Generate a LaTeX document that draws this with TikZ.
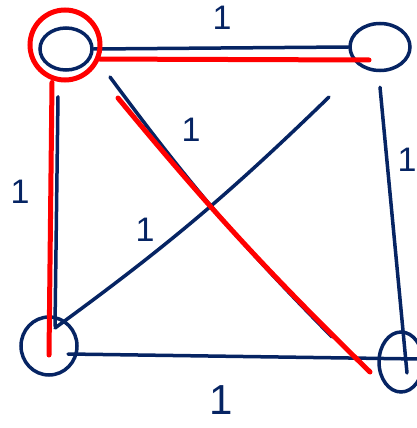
\documentclass[tikz,border=0pt]{standalone}
\usepackage{fontspec}
\setsansfont{Liberation Sans}
\usetikzlibrary{shapes.geometric}
\definecolor{navy}{RGB}{6,36,99}
\definecolor{hlred}{RGB}{255,0,0}
\begin{document}
\begin{tikzpicture}[x=1pt, y=-1pt,
      vtx/.style={ellipse, draw=navy, line width=3.5pt, inner sep=0pt},
      edge/.style={draw=navy, line width=3.5pt, line cap=round},
      hl/.style={draw=hlred, line width=5pt, line cap=round},
      wt/.style={text=navy, inner sep=0pt, font=\sffamily\fontsize{34}{34}\selectfont},
    ]
      \useasboundingbox (0,0) rectangle (417,428);

      % vertices
      \node[vtx, minimum width=52pt, minimum height=42pt] (tl) at (66,49) {};
      \node[vtx, minimum width=60pt, minimum height=47pt] (tr) at (380,47) {};
      \node[vtx, minimum width=56pt, minimum height=58pt] (bl) at (49,346) {};
      \node[vtx, minimum width=44pt, minimum height=60pt] (br) at (401,362) {};

      % edges
      \draw[edge] (tl.east) -- (tr.west);
      \draw[edge] ([xshift=-8pt, yshift=-25pt]tl.south) -- ([xshift=6pt, yshift=-11pt]bl.north);
      \draw[edge] ([yshift=-15pt]tr.south) -- ([xshift=6pt, yshift=-11pt]br.center);
      \draw[edge] ([xshift=19pt, yshift=-8pt]bl.center) -- ([xshift=18pt, yshift=3pt]br.center);
      \draw[edge] ([xshift=44pt, yshift=-28pt]tl.center) to[bend right=4] ([xshift=-69pt, yshift=25pt]br.center);
      \draw[edge] ([xshift=-51pt, yshift=-50pt]tr.center) to[bend left=4] ([xshift=6pt, yshift=18pt]bl.center);

      % weights
      \node[wt] (w1) at (222,18) {1};
      \node[wt] (w2) at (20,192) {1};
      \node[wt] (w3) at (191,130) {1};
      \node[wt] (w4) at (145,230) {1};
      \node[wt] (w5) at (407,160) {1};
      \node[wt, font=\sffamily\fontsize{42}{42}\selectfont] (w6) at (221,400) {1};

      % highlighted tree
      \node[circle, draw=hlred, line width=5pt, minimum size=70pt, inner sep=0pt] (sel) at (65,45) {};
      \draw[hl] (sel.-22) -- ([xshift=-11pt, yshift=-13pt]tr.center);
      \draw[hl] ([xshift=-13pt]sel.south) -- ([yshift=-9pt]bl.center);
      \draw[hl] ([xshift=52pt, yshift=-49pt]tl.center) to[bend right=3] ([xshift=-31pt, yshift=-10pt]br.center);
    \end{tikzpicture}
\end{document}
